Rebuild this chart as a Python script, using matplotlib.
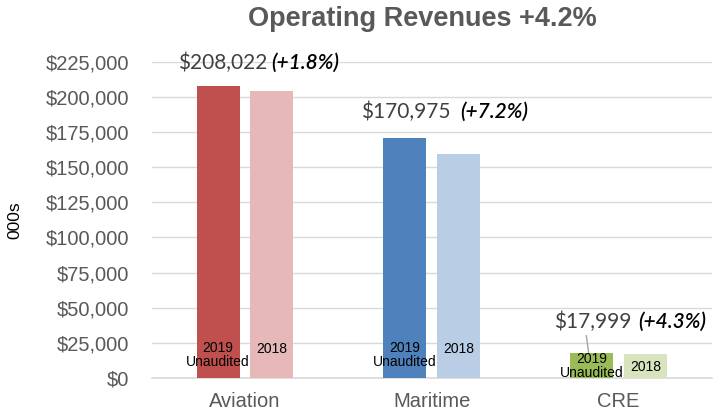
import numpy as np
import matplotlib
matplotlib.use("Agg")
import matplotlib.pyplot as plt
from matplotlib.ticker import FuncFormatter

plt.rcParams['font.family'] = ['Liberation Sans', 'DejaVu Sans']

# data
categories = ['Aviation', 'Maritime', 'CRE']
rev_2019 = [208022, 170975, 17999]
rev_2018 = [204344, 159491, 17257]
value_labels = ['$208,022', '$170,975', '$17,999']
pct_labels = ['(+1.8%)', '(+7.2%)', '(+4.3%)']
colors_2019 = ['#C0504D', '#4F81BD', '#9BBB59']
colors_2018 = ['#E6B9B8', '#B9CDE5', '#D7E4BD']

fig = plt.figure(figsize=(7.19, 4.13), dpi=100)
ax = fig.add_axes([0.211, 0.085, 0.779, 0.765])

x = np.arange(len(categories))
w = 0.23
off = 0.144
ax.bar(x - off, rev_2019, w, color=colors_2019, zorder=3)
ax.bar(x + off, rev_2018, w, color=colors_2018, zorder=3)

ax.set_xlim(-0.5, 2.5)
ax.set_ylim(0, 225000)
ax.set_yticks(np.arange(0, 225001, 25000))
ax.yaxis.set_major_formatter(FuncFormatter(lambda v, p: '${:,.0f}'.format(v)))
ax.set_xticks(x)
ax.set_xticklabels(categories)
ax.tick_params(axis='both', length=0, labelsize=14.5, colors='#595959')
ax.tick_params(axis='x', pad=10)
ax.tick_params(axis='y', pad=16)
ax.grid(axis='y', color='#D9D9D9', linewidth=1, zorder=0)
for s in ['top', 'right', 'left']:
    ax.spines[s].set_visible(False)
ax.spines['bottom'].set_color('#D9D9D9')
ax.spines['bottom'].set_linewidth(1.2)

ax.set_ylabel('000s', fontsize=12.5, color='black', labelpad=17)
fig.text(0.587, 0.953, 'Operating Revenues +4.2%', ha='center', va='center',
         fontsize=19.5, fontweight='bold', color='#595959')

# labels inside bars
inner_y19 = [16400, 16400, 8500]
inner_y18 = [20700, 20700, 7800]
for i in range(len(categories)):
    ax.text(x[i] - off, inner_y19[i], '2019\nUnaudited', ha='center', va='center',
            fontsize=10, color='black', linespacing=1.0, zorder=4)
    ax.text(x[i] + off, inner_y18[i], '2018', ha='center', va='center',
            fontsize=10, color='black', zorder=4)

# value annotations
val_x = [-0.36, -0.38, -0.346]
pct_x = [0.14, 0.15, 0.105]
ann_y = [224400, 189460, 39900]
for i in range(len(categories)):
    ax.text(x[i] + val_x[i], ann_y[i], value_labels[i], ha='left', va='center',
            fontsize=15, color='#404040', family=['Lato', 'DejaVu Sans'], zorder=5)
    ax.text(x[i] + pct_x[i], ann_y[i], pct_labels[i], ha='left', va='center',
            fontsize=15, color='black', style='italic', fontweight='semibold',
            family=['Lato', 'DejaVu Sans'], zorder=5)

# leader line for CRE
ax.plot([x[2] - 0.172, x[2] - 0.16], [30000, 18300], color='#A6A6A6', lw=1, zorder=5)

fig.savefig('out.png', dpi=100)
